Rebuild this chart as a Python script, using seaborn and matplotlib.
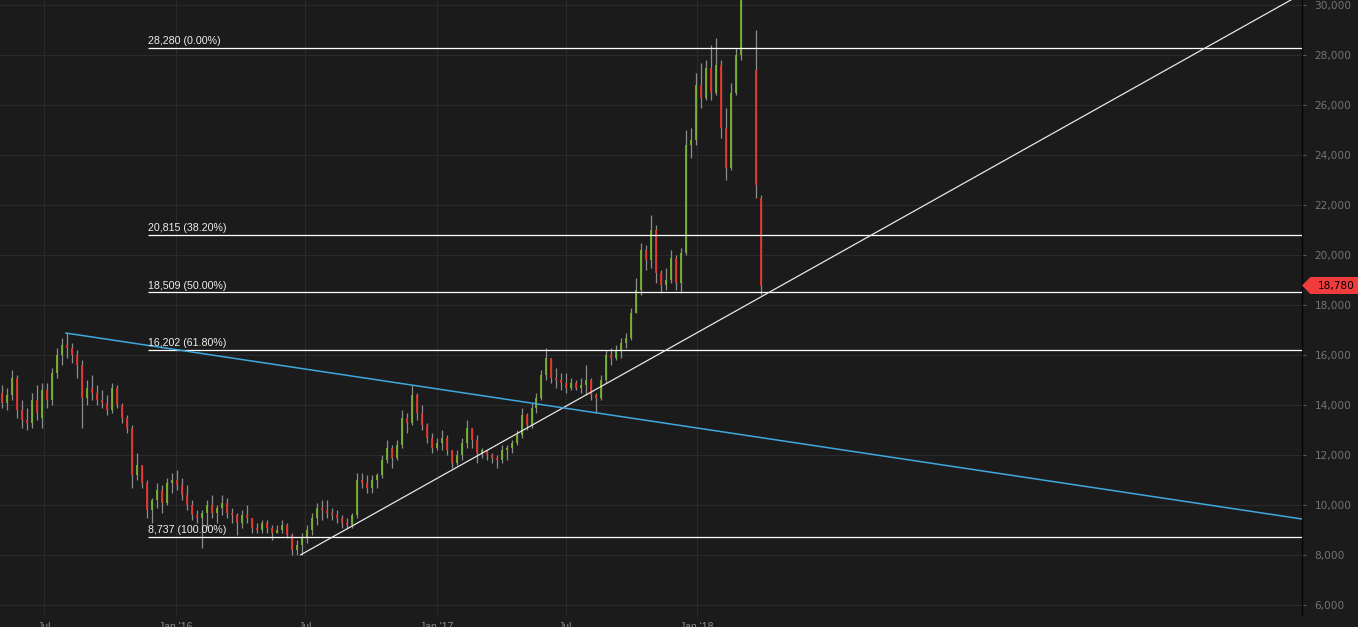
import numpy as np
import pandas as pd
import matplotlib
matplotlib.use("Agg")
from matplotlib import pyplot as plt
from matplotlib.patches import Polygon
from matplotlib.ticker import FuncFormatter
import seaborn as sns

# weekly bars, first one on first_bar
first_bar = "2015-05-03"
bar_opens = [14500, 14100, 14400, 15100, 13800, 13400, 13300, 14200, 13500, 14600,
             14200, 15300, 16000, 16400, 16300, 16000, 15600, 14300, 14700, 14500,
             14200, 14100, 13800, 14700, 14000, 13500, 13100, 11200, 11600, 10900,
             9800, 10200, 10600, 10100, 10900, 11000, 10800, 10400, 10000, 9600,
             9500, 9700, 10000, 9700, 9900, 10100, 9700, 9600, 9300, 9600,
             9500, 9100, 9000, 9300, 9100, 8900, 9000, 9200, 8800, 8200,
             8400, 8700, 9000, 9500, 9900, 9800, 9700, 9600, 9500, 9300,
             9200, 9600, 11000, 10900, 10700, 11000, 11200, 11800, 12300, 11900,
             12400, 13500, 13300, 14400, 13700, 13200, 12700, 12300, 12500, 12700,
             12200, 11700, 12000, 12500, 13100, 12600, 12100, 12200, 12000, 11900,
             11800, 12200, 12300, 12500, 12800, 13600, 13200, 13900, 14300, 15200,
             15900, 15100, 15000, 14900, 14700, 14900, 14700, 14800, 15000, 14400,
             14300, 15000, 16000, 15900, 16200, 16500, 16700, 17700, 18600, 20200,
             19800, 21000, 19300, 18800, 19000, 19900, 18900, 20100, 24400, 24600,
             26800, 26300, 27500, 26500, 27600, 25100, 23500, 26500, 28000, 31200,
             32800, 27400, 22300]
bar_highs = [14800, 14700, 15400, 15200, 14200, 13900, 14500, 14800, 14900, 14900,
             15500, 16300, 16700, 16880, 16500, 16200, 15800, 15000, 15200, 14800,
             14600, 14400, 14900, 14800, 14100, 13600, 13200, 12100, 11600, 11000,
             10300, 10900, 10800, 11100, 11300, 11400, 11100, 10800, 10200, 9800,
             9800, 10200, 10400, 10000, 10400, 10300, 9900, 9700, 9800, 10000,
             9500, 9300, 9400, 9400, 9200, 9200, 9400, 9300, 8900, 8600,
             8900, 9200, 9700, 10100, 10200, 10200, 9900, 9800, 9600, 9500,
             9700, 11300, 11300, 11200, 11200, 11300, 12000, 12600, 12400, 12600,
             13800, 13700, 14800, 14500, 14000, 13300, 12900, 12700, 13000, 12800,
             12200, 12200, 12700, 13400, 13100, 12800, 12300, 12200, 12100, 12000,
             12400, 12400, 12600, 13000, 13900, 13700, 14100, 14500, 15400, 16300,
             15900, 15500, 15300, 15300, 15100, 15000, 15100, 15600, 15100, 14500,
             15200, 16200, 16300, 16400, 16700, 16900, 17900, 19100, 20500, 20400,
             21600, 21200, 19400, 19500, 20200, 20000, 20300, 25000, 25100, 27300,
             27700, 27800, 28400, 28700, 27800, 25900, 26900, 28300, 31800, 33500,
             34000, 29000, 22400]
bar_lows = [13900, 13800, 14200, 13500, 13100, 13000, 13100, 13400, 13100, 13900,
            14000, 15100, 15600, 15900, 15700, 15100, 13100, 14000, 14200, 14000,
            13900, 13600, 13700, 13900, 13300, 12900, 10700, 11000, 10700, 9500,
            9300, 9900, 9700, 10000, 10500, 10600, 10200, 9800, 9400, 9300,
            8300, 9100, 9500, 9300, 9600, 9500, 9300, 8800, 9100, 9300,
            8900, 8900, 8900, 8900, 8600, 8900, 8900, 8700, 8000, 8000,
            8000, 8500, 8800, 9200, 9400, 9500, 9400, 9300, 9100, 9100,
            9100, 9500, 10700, 10500, 10500, 10700, 11100, 11700, 11500, 11800,
            12300, 12900, 13200, 13400, 13000, 12500, 12100, 12200, 12200, 12000,
            11500, 11600, 11800, 12300, 12300, 11700, 11900, 11800, 11700, 11500,
            11700, 11800, 12100, 12400, 12700, 13000, 13100, 13700, 14200, 15000,
            14900, 14700, 14600, 14500, 14600, 14600, 14500, 14400, 14200, 13700,
            14200, 14900, 15600, 15800, 15900, 16300, 16600, 17700, 18400, 19400,
            19500, 18900, 18500, 18600, 18900, 18600, 18500, 20000, 23900, 24400,
            25900, 26200, 26200, 26400, 24700, 23000, 23400, 26400, 27800, 30800,
            31000, 22300, 18400]
bar_closes = [14100, 14400, 15100, 13800, 13400, 13300, 14200, 13700, 14600, 14200,
              15300, 16000, 16400, 16300, 16000, 15600, 14300, 14700, 14500, 14200,
              14100, 13800, 14700, 14000, 13500, 13100, 11200, 11600, 10900, 9800,
              10200, 10600, 10100, 10900, 11000, 10800, 10400, 10000, 9600, 9500,
              9700, 10000, 9700, 9900, 10100, 9700, 9600, 9300, 9600, 9500,
              9100, 9000, 9300, 9100, 8900, 9000, 9200, 8800, 8200, 8400,
              8700, 9000, 9500, 9900, 9800, 9700, 9600, 9500, 9300, 9200,
              9600, 11000, 10900, 10700, 11000, 11200, 11800, 12300, 11900, 12400,
              13500, 13300, 14400, 13700, 13200, 12700, 12300, 12500, 12700, 12200,
              11700, 12000, 12500, 13100, 12600, 12100, 12200, 12000, 11900, 11800,
              12200, 12300, 12500, 12800, 13600, 13200, 13900, 14300, 15200, 15900,
              15100, 15000, 14900, 14700, 14900, 14700, 14800, 15000, 14400, 14300,
              15000, 16000, 15900, 16200, 16500, 16700, 17700, 18600, 20200, 19800,
              21000, 19300, 18800, 19000, 19900, 18900, 20100, 24400, 24600, 26800,
              26300, 27500, 26500, 27600, 25100, 23500, 26500, 28000, 31200, 32800,
              31500, 22800, 18780]

fib_levels = [28280, 20815, 18509, 16202, 8737]
fib_labels = ["28,280 (0.00%)", "20,815 (38.20%)", "18,509 (50.00%)",
              "16,202 (61.80%)", "8,737 (100.00%)"]
fib_start = "2015-11-23"

support_dates = ["2016-06-24", "2020-04-28"]
support_values = [8000, 30450]
resistance_dates = ["2015-07-31", "2020-04-28"]
resistance_values = [16880, 9440]

last_price = 18780
tick_dates = ["2015-07-01", "2016-01-01", "2016-07-01", "2017-01-01", "2017-07-01", "2018-01-01"]
tick_labels = ["Jul", "Jan '16", "Jul", "Jan '17", "Jul", "Jan '18"]

BG = "#1b1b1b"
GREEN = "#74b52c"
RED = "#e8332b"
WICK = "#8c8c8c"

sns.set_theme(style="darkgrid", rc={
    "figure.facecolor": BG, "axes.facecolor": BG, "grid.color": "#2a2a2a",
    "grid.linewidth": 0.8, "axes.edgecolor": "#050505",
})
plt.rcParams["font.family"] = ["Liberation Sans", "DejaVu Sans"]

fig = plt.figure(figsize=(13.58, 6.27), dpi=100)
ax = fig.add_axes([0, 12 / 627, 1302 / 1358, 615 / 627])

dates = pd.date_range(first_bar, periods=len(bar_closes), freq="7D")
o = np.array(bar_opens)
h = np.array(bar_highs)
l = np.array(bar_lows)
c = np.array(bar_closes)
up = c >= o

ax.vlines(dates, l, h, color=WICK, lw=0.9, zorder=3)
ax.vlines(dates[up], o[up], c[up], color=GREEN, lw=1.3, zorder=4)
ax.vlines(dates[~up], o[~up], c[~up], color=RED, lw=1.3, zorder=4)

x_right = pd.Timestamp("2020-04-28")
ax.set_xlim(pd.Timestamp("2015-04-30"), x_right)
ax.set_ylim(5600, 30200)

# fibonacci retracement
ax.hlines(fib_levels, pd.Timestamp(fib_start), x_right, color="#ffffff", lw=0.9, zorder=5)
for lvl, lab in zip(fib_levels, fib_labels):
    ax.text(pd.Timestamp(fib_start), lvl + 70, lab, color="#eeeeee", fontsize=7.7,
            ha="left", va="bottom", zorder=6)

# trend lines
sns.lineplot(x=pd.to_datetime(support_dates), y=support_values, ax=ax,
             color="#e6e6e6", lw=0.9, zorder=5)
sns.lineplot(x=pd.to_datetime(resistance_dates), y=resistance_values, ax=ax,
             color="#3ea8df", lw=1.1, zorder=5)

ax.set_xticks(pd.to_datetime(tick_dates))
ax.set_xticklabels(tick_labels)
ax.tick_params(axis="x", colors="#8a8a8a", labelsize=7.5, length=0, pad=5)

ax.yaxis.tick_right()
ax.set_yticks(range(6000, 30001, 2000))
ax.yaxis.set_major_formatter(FuncFormatter(lambda v, p: f"{v:,.0f}"))
ax.tick_params(axis="y", colors="#5a5a5a", labelcolor="#747474", labelsize=7.6,
               length=3, width=0.8, pad=6, direction="out")
for t in ax.get_yticklabels():
    t.set_family("DejaVu Sans")
ax.grid(True)
for side in ["left", "top", "bottom"]:
    ax.spines[side].set_visible(False)
ax.spines["right"].set_color("#050505")
ax.spines["right"].set_linewidth(1)

# last price tag
yt = ax.get_yaxis_transform()
half = 340
tag = Polygon([[1.0, last_price], [1.0065, last_price + half], [1.05, last_price + half],
               [1.05, last_price - half], [1.0065, last_price - half]],
              closed=True, transform=yt, facecolor="#f03c3c", edgecolor="none",
              clip_on=False, zorder=10)
ax.add_patch(tag)
ax.text(1.012, last_price, f"{last_price:,}", transform=yt, color="#000000",
        fontsize=7.6, family="DejaVu Sans", ha="left", va="center",
        clip_on=False, zorder=11)

ax.set_xlabel("")
ax.set_ylabel("")
fig.savefig("out.png", dpi=100, facecolor=BG)
